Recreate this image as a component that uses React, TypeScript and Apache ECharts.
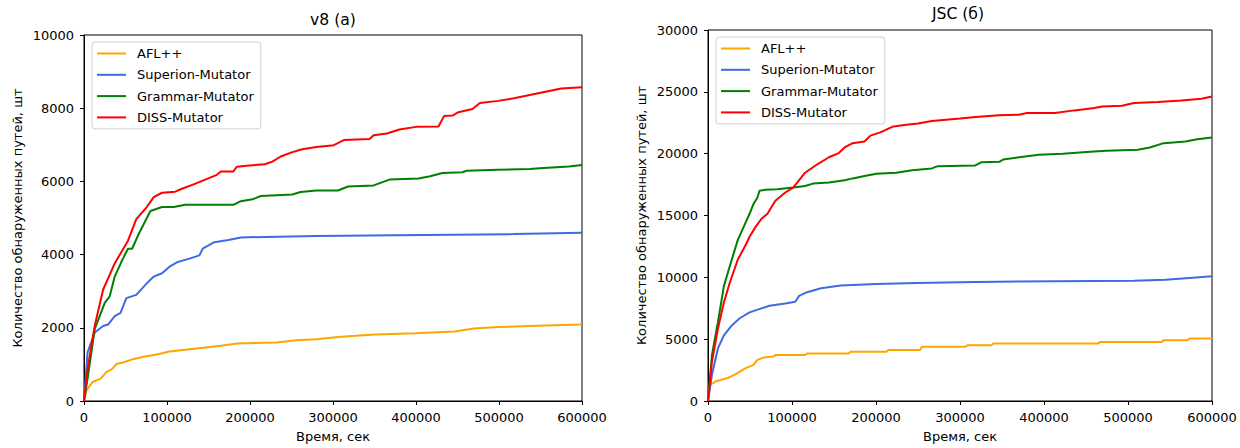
import React, { useEffect, useRef } from "react";
import * as echarts from "echarts";

// ---- v8 (a) ----
const v8AflT = [0, 3300, 10500, 20000, 27000, 34000, 39000, 48000, 60000, 72000, 89000, 103000, 122000, 146000, 165000, 184000, 232000, 256000, 280000, 306000, 327000, 351000, 399000, 446000, 470000, 499000, 556000, 600000];
const v8AflV = [0, 300, 520, 610, 790, 880, 1010, 1060, 1150, 1210, 1280, 1350, 1400, 1460, 1510, 1570, 1600, 1660, 1690, 1750, 1780, 1820, 1850, 1900, 1980, 2020, 2060, 2090];

const v8SupT = [0, 4300, 12900, 23000, 29000, 37000, 44000, 51000, 63000, 75000, 84000, 94000, 103000, 113000, 127000, 139000, 143000, 157000, 174000, 189000, 280000, 375000, 518000, 600000];
const v8SupV = [0, 1330, 1870, 2050, 2090, 2320, 2410, 2810, 2900, 3200, 3400, 3490, 3670, 3800, 3890, 3980, 4160, 4340, 4400, 4470, 4510, 4530, 4560, 4600];

const v8GramT = [0, 4300, 12900, 25000, 31000, 37000, 46000, 53000, 58000, 65000, 80000, 94000, 108000, 122000, 180000, 189000, 203000, 213000, 251000, 261000, 280000, 306000, 318000, 349000, 368000, 403000, 417000, 432000, 456000, 461000, 499000, 537000, 549000, 584000, 600000];
const v8GramV = [0, 610, 1960, 2680, 2860, 3400, 3850, 4160, 4160, 4520, 5190, 5300, 5300, 5360, 5360, 5460, 5510, 5600, 5640, 5710, 5750, 5750, 5860, 5890, 6050, 6080, 6140, 6230, 6250, 6290, 6320, 6340, 6360, 6410, 6450];

const v8DissT = [0, 4300, 12900, 23000, 37000, 53000, 63000, 75000, 84000, 94000, 110000, 118000, 132000, 146000, 160000, 165000, 180000, 184000, 196000, 218000, 227000, 237000, 251000, 263000, 280000, 301000, 313000, 344000, 349000, 365000, 380000, 400000, 427000, 434000, 444000, 451000, 468000, 477000, 499000, 518000, 537000, 556000, 575000, 600000];
const v8DissV = [0, 880, 2050, 3040, 3760, 4380, 4970, 5280, 5570, 5690, 5720, 5800, 5920, 6050, 6180, 6270, 6270, 6400, 6430, 6470, 6540, 6680, 6800, 6880, 6940, 6990, 7130, 7160, 7260, 7310, 7420, 7490, 7500, 7790, 7800, 7890, 7980, 8140, 8200, 8270, 8360, 8450, 8540, 8570];

// ---- JSC (б) ----
const jscAflT = [0, 2400, 9400, 23600, 33000, 44800, 54200, 58900, 66000, 77800, 80200, 115600, 118000, 167500, 169800, 212300, 214700, 252400, 254700, 306600, 309000, 337300, 339600, 464600, 467000, 540000, 542500, 570800, 573100, 600000];
const jscAflV = [0, 1330, 1590, 1860, 2180, 2660, 2920, 3320, 3510, 3590, 3720, 3720, 3850, 3850, 3980, 3980, 4120, 4120, 4380, 4380, 4510, 4510, 4650, 4650, 4780, 4780, 4910, 4910, 5050, 5050];

const jscSupT = [0, 4700, 11800, 18900, 28300, 37700, 49500, 63700, 73100, 92000, 103800, 108500, 118000, 134400, 158000, 200500, 247700, 318300, 412700, 507100, 544800, 573100, 600000];
const jscSupV = [0, 2120, 4250, 5310, 6110, 6690, 7170, 7490, 7700, 7890, 8020, 8500, 8800, 9120, 9340, 9470, 9550, 9630, 9680, 9730, 9810, 9950, 10080];

const jscGramT = [0, 4700, 11800, 18900, 25900, 35400, 42500, 49500, 54200, 58900, 61300, 68400, 82500, 101400, 115600, 125000, 143900, 162700, 172200, 186300, 200500, 224100, 243000, 266500, 273600, 318300, 325500, 346700, 351400, 370300, 393900, 422200, 450500, 474100, 511800, 526000, 542500, 568400, 582500, 600000];
const jscGramV = [0, 3720, 6370, 9290, 10890, 13010, 14080, 15140, 15930, 16460, 17000, 17080, 17130, 17260, 17390, 17580, 17660, 17850, 18000, 18190, 18380, 18460, 18650, 18810, 18990, 19050, 19310, 19340, 19520, 19710, 19920, 20000, 20130, 20240, 20320, 20500, 20850, 20980, 21170, 21300];

const jscDissT = [0, 4700, 11800, 18900, 25900, 35400, 44800, 49500, 56600, 63700, 70800, 80200, 92000, 101400, 115600, 129700, 143900, 155700, 162700, 172200, 186300, 193400, 205200, 219300, 233500, 250000, 266500, 300000, 318300, 346700, 370300, 379700, 412700, 436300, 460000, 469300, 492900, 507100, 535400, 563700, 587300, 600000];
const jscDissV = [0, 3190, 5840, 7970, 9560, 11420, 12610, 13280, 14080, 14740, 15140, 16200, 16860, 17260, 18460, 19120, 19710, 20050, 20500, 20850, 20980, 21460, 21720, 22170, 22310, 22440, 22650, 22840, 22970, 23100, 23150, 23290, 23290, 23500, 23690, 23820, 23870, 24090, 24170, 24300, 24440, 24620];

const seriesNames = ["AFL++", "Superion-Mutator", "Grammar-Mutator", "DISS-Mutator"];
const seriesColors = ["#FFA500", "#4169E1", "#008000", "#FF0000"];
const titles = ["v8 (a)", "JSC (б)"];
const xAxisName = "Время, сек";
const yAxisName = "Количество обнаруженных путей, шт";
const yMax = [10000, 30000];
const yInterval = [2000, 5000];

const FONT = "DejaVu Sans";

const zip = (t: number[], v: number[]) => t.map((x, i) => [x, v[i]]);

export default function App() {
  const ref = useRef<HTMLDivElement>(null);
  useEffect(() => {
    if (!ref.current) return;
    const chart = echarts.init(ref.current, undefined, { renderer: "svg" });
    const data = [
      [zip(v8AflT, v8AflV), zip(v8SupT, v8SupV), zip(v8GramT, v8GramV), zip(v8DissT, v8DissV)],
      [zip(jscAflT, jscAflV), zip(jscSupT, jscSupV), zip(jscGramT, jscGramV), zip(jscDissT, jscDissV)],
    ];
    const grids = [
      { left: 84, top: 35, width: 498, height: 371 },
      { left: 708, top: 30, width: 504, height: 376 },
    ];
    const legendPos = [
      { left: 92, top: 42 },
      { left: 716, top: 37 },
    ];
    const titlePos = [
      { x: 333, top: 12 },
      { x: 958, top: 6 },
    ];
    const series: any[] = [];
    data.forEach((set, gi) => {
      set.forEach((d, si) => {
        series.push({
          type: "line",
          name: seriesNames[si],
          xAxisIndex: gi,
          yAxisIndex: gi,
          data: d,
          showSymbol: false,
          symbol: "none",
          lineStyle: { color: seriesColors[si], width: 2 },
          itemStyle: { color: seriesColors[si] },
        });
      });
    });
    const axisCommon = {
      axisLine: { show: true, lineStyle: { color: "#000", width: 1 } },
      axisTick: { show: true, inside: false, length: 4, lineStyle: { color: "#000" } },
      splitLine: { show: false },
      axisLabel: { color: "#000", fontSize: 13, fontFamily: FONT, margin: 10, formatter: (v: number) => String(v) },
      nameTextStyle: { color: "#000", fontSize: 13, fontFamily: FONT },
      nameLocation: "middle" as const,
    };
    chart.setOption({
      animation: false,
      backgroundColor: "#fff",
      title: titles.map((t, i) => ({
        text: t,
        left: titlePos[i].x,
        top: titlePos[i].top,
        textAlign: "center",
        padding: 0,
        textStyle: { color: "#000", fontSize: 15.6, fontWeight: "normal", fontFamily: FONT },
      })),
      grid: grids.map((g) => ({ ...g, show: true, borderColor: "#000", borderWidth: 1, backgroundColor: "transparent" })),
      xAxis: grids.map((_, i) => ({
        ...axisCommon,
        type: "value",
        gridIndex: i,
        min: 0,
        max: 600000,
        interval: 100000,
        name: xAxisName,
        nameGap: 29,
      })),
      yAxis: grids.map((_, i) => ({
        ...axisCommon,
        type: "value",
        gridIndex: i,
        min: 0,
        max: yMax[i],
        interval: yInterval[i],
        name: yAxisName,
        nameGap: 60,
      })),
      legend: legendPos.map((p) => ({
        ...p,
        orient: "vertical",
        data: seriesNames,
        icon: "rect",
        itemWidth: 29,
        itemHeight: 2,
        itemGap: 8.3,
        padding: [5, 7, 5, 5],
        backgroundColor: "rgba(255,255,255,0.8)",
        borderColor: "#d0d0d0",
        borderWidth: 1,
        borderRadius: 3,
        textStyle: { color: "#000", fontSize: 13, fontFamily: FONT, lineHeight: 13, padding: [0, 0, 0, 6] },
        selectedMode: false,
      })),
      series,
    });
    return () => chart.dispose();
  }, []);
  return <div ref={ref} style={{ position: "fixed", left: 0, top: 0, width: 1240, height: 448 }} />;
}
